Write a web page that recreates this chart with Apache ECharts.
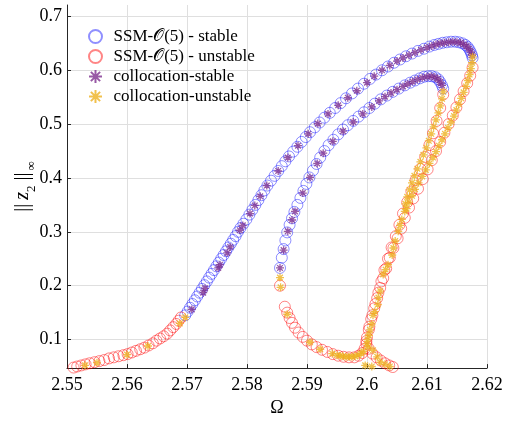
<!DOCTYPE html>
<html><head><meta charset="utf-8">
<script src="https://cdn.jsdelivr.net/npm/echarts@6/dist/echarts.min.js"></script>
<style>html,body{margin:0;padding:0;background:#fff}#c{width:518px;height:422px}</style>
</head><body><div id="c"></div>
<script>
// ---- tick labels ----
const xTicks = [2.55, 2.56, 2.57, 2.58, 2.59, 2.60, 2.61, 2.62];
const yTicks = [0.1, 0.2, 0.3, 0.4, 0.5, 0.6, 0.7];

// ---- SSM-O(5) stable (blue circles) ----
const ssmStableOuter = [
[2.5697,0.145],[2.5701,0.152],[2.5705,0.159],[2.5709,0.166],[2.5713,0.173],[2.5717,0.180],[2.5721,0.187],[2.5725,0.194],
[2.5729,0.201],[2.5733,0.208],[2.5737,0.215],[2.5741,0.222],[2.5745,0.229],[2.5749,0.236],[2.5753,0.243],[2.5757,0.250],
[2.5761,0.257],[2.5765,0.264],[2.5769,0.271],[2.5773,0.278],[2.5777,0.285],[2.5781,0.292],[2.5785,0.300],[2.5789,0.307],
[2.5794,0.315],[2.5799,0.323],[2.5804,0.332],[2.5809,0.341],[2.5814,0.350],[2.5819,0.359],[2.5824,0.368],[2.5829,0.377],
[2.5834,0.386],[2.5840,0.395],[2.5846,0.404],[2.5852,0.413],[2.5858,0.422],[2.5864,0.431],[2.5870,0.440],[2.5877,0.449],
[2.5884,0.458],[2.5891,0.467],[2.5898,0.476],[2.5905,0.485],[2.5913,0.494],[2.5921,0.503],[2.5929,0.512],[2.5938,0.521],
[2.5947,0.530],[2.5956,0.539],[2.5965,0.548],[2.5975,0.557],[2.5985,0.566],[2.5995,0.575],[2.6005,0.584],[2.6015,0.592],
[2.6025,0.600],[2.6035,0.607],[2.6045,0.614],[2.6055,0.620],[2.6065,0.626],[2.6075,0.631],[2.6085,0.636],[2.6095,0.640],
[2.6104,0.644],[2.6112,0.647],[2.6119,0.649],[2.6126,0.651],[2.6133,0.652],[2.6140,0.653],[2.6147,0.653],[2.6153,0.652],
[2.6159,0.650],[2.6164,0.647],[2.6168,0.643],[2.6171,0.638],[2.6173,0.633],[2.6175,0.628],[2.6176,0.623]
];
const ssmStableInner = [
[2.5855,0.233],[2.5858,0.252],[2.5861,0.268],[2.5864,0.284],[2.5867,0.299],[2.5871,0.313],[2.5875,0.325],[2.5879,0.337],
[2.5884,0.350],[2.5889,0.363],[2.5894,0.376],[2.5899,0.389],[2.5904,0.401],[2.5910,0.414],[2.5916,0.426],[2.5922,0.438],
[2.5929,0.450],[2.5936,0.461],[2.5944,0.471],[2.5952,0.481],[2.5960,0.490],[2.5968,0.498],[2.5977,0.506],[2.5986,0.514],
[2.5995,0.522],[2.6004,0.530],[2.6013,0.538],[2.6023,0.546],[2.6033,0.553],[2.6043,0.560],[2.6053,0.566],[2.6063,0.572],
[2.6072,0.577],[2.6080,0.581],[2.6088,0.585],[2.6095,0.588],[2.6102,0.589],[2.6108,0.589],[2.6114,0.587],[2.6119,0.583],
[2.6122,0.578],[2.6125,0.572],[2.6127,0.566]
];

// ---- SSM-O(5) unstable (red circles) ----
const ssmUnstableLow = [
[2.5511,0.048],[2.5517,0.050],[2.5524,0.052],[2.5531,0.054],[2.5538,0.056],[2.5546,0.058],[2.5554,0.060],[2.5562,0.062],
[2.5570,0.065],[2.5578,0.067],[2.5586,0.069],[2.5594,0.071],[2.5601,0.073],[2.5608,0.076],[2.5615,0.079],[2.5622,0.082],
[2.5629,0.085],[2.5636,0.089],[2.5643,0.093],[2.5649,0.098],[2.5655,0.102],[2.5661,0.106],[2.5667,0.111],[2.5672,0.117],
[2.5677,0.123],[2.5682,0.129],[2.5686,0.135],[2.5690,0.141]
];
const ssmUnstableCusp = [
[2.5855,0.200],[2.5863,0.161],[2.5867,0.150],[2.5871,0.140],[2.5875,0.131],[2.5880,0.122],[2.5886,0.113],[2.5893,0.105],
[2.5900,0.098],[2.5908,0.091],[2.5916,0.086],[2.5925,0.081],[2.5934,0.077],[2.5943,0.073],[2.5952,0.070],[2.5961,0.068],
[2.5970,0.067],[2.5979,0.067],[2.5986,0.070],[2.5992,0.075],[2.5996,0.083],[2.5999,0.097],[2.6003,0.118],[2.6007,0.138],
[2.6012,0.158],[2.6017,0.177],[2.6022,0.196],[2.6027,0.214],[2.6032,0.232],[2.6038,0.252],[2.6044,0.270],[2.6051,0.288],
[2.6057,0.306],[2.6063,0.326],[2.6070,0.345],[2.6077,0.362],[2.6085,0.380],[2.6093,0.398],[2.6101,0.416],[2.6108,0.433],
[2.6115,0.450],[2.6122,0.467],[2.6129,0.484],[2.6136,0.500],[2.6143,0.516],[2.6149,0.531],[2.6155,0.546],[2.6161,0.561],
[2.6167,0.576],[2.6172,0.590],[2.6176,0.605]
];
const ssmUnstableInner = [
[2.6127,0.555],[2.6122,0.530],[2.6116,0.506],[2.6110,0.483],[2.6104,0.461],[2.6097,0.439],[2.6089,0.417],[2.6081,0.396],
[2.6074,0.375],[2.6067,0.355],[2.6060,0.334],[2.6054,0.313],[2.6048,0.292],[2.6041,0.271],[2.6035,0.250],[2.6029,0.229],
[2.6024,0.208],[2.6019,0.187],[2.6014,0.166],[2.6009,0.145],[2.6004,0.124],[2.6000,0.104],[2.5999,0.092],[2.6003,0.083],
[2.6009,0.074],[2.6016,0.067],[2.6023,0.061],[2.6030,0.056],[2.6037,0.052],[2.6043,0.049]
];

// ---- collocation stable (purple asterisks) ----
const collStableOuter = [
[2.5708,0.156],[2.5727,0.187],[2.5730,0.195],[2.5752,0.233],[2.5755,0.239],[2.5767,0.261],[2.5772,0.272],[2.5788,0.303],
[2.5793,0.312],[2.5805,0.334],[2.5813,0.349],[2.5822,0.366],[2.5833,0.386],[2.5852,0.413],[2.5868,0.438],[2.5885,0.460],
[2.5902,0.482],[2.5918,0.501],[2.5935,0.519],[2.5952,0.535],[2.5968,0.549],[2.5983,0.562],[2.6000,0.577],[2.6012,0.589],
[2.6025,0.600],[2.6038,0.609],[2.6050,0.617],[2.6060,0.623],[2.6070,0.628],[2.6080,0.633],[2.6090,0.638],[2.6100,0.642],
[2.6108,0.645],[2.6115,0.648],[2.6122,0.650],[2.6129,0.651],[2.6136,0.652],[2.6143,0.653],[2.6150,0.652],[2.6156,0.651],
[2.6161,0.648],[2.6166,0.645],[2.6170,0.640],[2.6173,0.634],[2.6175,0.628]
];
const collStableInner = [
[2.5855,0.233],[2.5861,0.266],[2.5868,0.301],[2.5875,0.322],[2.5880,0.338],[2.5893,0.372],[2.5905,0.401],[2.5917,0.427],
[2.5927,0.446],[2.5943,0.468],[2.5960,0.487],[2.5977,0.504],[2.5993,0.519],[2.6008,0.532],[2.6020,0.543],[2.6030,0.551],
[2.6040,0.558],[2.6050,0.564],[2.6060,0.570],[2.6068,0.575],[2.6076,0.579],[2.6084,0.583],[2.6092,0.586],[2.6100,0.588],
[2.6107,0.589],[2.6113,0.587],[2.6118,0.584],[2.6122,0.578],[2.6125,0.572]
];

// ---- collocation unstable (yellow asterisks) ----
const collUnstableLow = [
[2.5530,0.052],[2.5550,0.057],[2.5600,0.072],[2.5635,0.088],[2.5688,0.130],[2.5697,0.141]
];
const collUnstableCusp = [
[2.5855,0.215],[2.5856,0.197],[2.5867,0.147],[2.5905,0.095],[2.5922,0.082],[2.5942,0.074],[2.5950,0.071],[2.5955,0.070],
[2.5960,0.069],[2.5965,0.068],[2.5970,0.068],[2.5975,0.068],[2.5980,0.069],[2.5985,0.071],[2.5990,0.074],[2.5994,0.078]
];
const collUnstableInner = [
[2.6127,0.560],[2.6125,0.547],[2.6122,0.534],[2.6119,0.521],[2.6115,0.508],[2.6111,0.495],[2.6107,0.482],[2.6103,0.469],
[2.6099,0.456],[2.6094,0.443],[2.6089,0.430],[2.6084,0.417],[2.6079,0.404],[2.6075,0.391],[2.6071,0.378],[2.6067,0.365],
[2.6064,0.352]
];
const collUnstableOuter = [
[2.6176,0.625],[2.6175,0.614],[2.6173,0.603],[2.6171,0.592],[2.6168,0.581],[2.6165,0.570],[2.6161,0.559],[2.6157,0.548],
[2.6153,0.537],[2.6149,0.526],[2.6145,0.515],[2.6140,0.504],[2.6135,0.493],[2.6130,0.482],[2.6125,0.471],[2.6120,0.460],
[2.6115,0.449],[2.6110,0.438],[2.6104,0.427],[2.6098,0.415],[2.6092,0.403],[2.6086,0.391],[2.6080,0.379],[2.6075,0.367],
[2.6070,0.355],[2.6066,0.343]
];
const collUnstableMerged = [
[2.6063,0.338],[2.6058,0.323],[2.6055,0.312],[2.6052,0.301],[2.6047,0.283],[2.6044,0.270],[2.6042,0.257],[2.6035,0.239],
[2.6031,0.230],[2.6027,0.221],[2.6022,0.190],[2.6019,0.178],[2.6018,0.165],[2.6013,0.152],[2.6010,0.145],[2.6008,0.129],
[2.6005,0.118],[2.6003,0.108],[2.6001,0.100],[2.6000,0.092],[2.6002,0.086],[2.6010,0.080],[2.6017,0.068],[2.6022,0.058],
[2.6030,0.054],[2.6038,0.050],[2.5997,0.052],[2.6008,0.050]
];

const FONT = '"Liberation Serif", "DejaVu Serif", serif';
const AXIS_COLOR = '#262626';
const STAR = 'path://M5,0L5,10M0,5L10,5M1.46,1.46L8.54,8.54M1.46,8.54L8.54,1.46';

const NAME_S = 'SSM-\u{1D4AA}(5) - stable';
const NAME_U = 'SSM-\u{1D4AA}(5) - unstable';
const NAME_CS = 'collocation-stable';
const NAME_CU = 'collocation-unstable';

function circleSeries(name, data, color) {
  return {
    type: 'scatter', name: name, data: data, symbol: 'circle', symbolSize: 11, clip: false,
    itemStyle: { color: 'rgba(0,0,0,0)', borderColor: color, borderWidth: 1 },
    emphasis: { disabled: true }, silent: true
  };
}
function starSeries(name, data, color) {
  return {
    type: 'scatter', name: name, data: data, symbol: STAR, symbolSize: 8, clip: false,
    itemStyle: { color: color, borderColor: color, borderWidth: 1.3 },
    emphasis: { disabled: true }, silent: true
  };
}

const chart = echarts.init(document.getElementById('c'), null, { renderer: 'canvas' });
chart.setOption({
  animation: false,
  backgroundColor: '#fff',
  textStyle: { fontFamily: FONT },
  grid: { left: 67, right: 31, top: 5, bottom: 51, containLabel: false },
  legend: {
    orient: 'vertical', left: 83, top: 23, itemGap: 3, itemWidth: 14, itemHeight: 13,
    data: [NAME_S, NAME_U, NAME_CS, NAME_CU],
    textStyle: { fontFamily: FONT, fontSize: 17, color: '#000', padding: [0, 0, 0, 6] },
    selectedMode: false
  },
  xAxis: {
    type: 'value', min: 2.55, max: 2.62, interval: 0.01,
    name: '\u03A9', nameLocation: 'middle', nameGap: 30,
    nameTextStyle: { fontFamily: FONT, fontSize: 18, color: '#000' },
    axisLine: { show: true, lineStyle: { color: AXIS_COLOR, width: 1 } },
    axisTick: { show: true, inside: true, length: 4, lineStyle: { color: AXIS_COLOR } },
    axisLabel: { fontFamily: FONT, fontSize: 18, color: '#000', margin: 8,
      formatter: v => String(+v.toFixed(2)) },
    splitLine: { show: true, lineStyle: { color: '#dfdfdf', width: 1 } }
  },
  yAxis: {
    type: 'value', min: 0.047, max: 0.7212,
    name: '{b|||}{i|z}{s|2}{c|||}{s|\u221E}', nameLocation: 'middle', nameGap: 33, nameRotate: 90,
    nameMoveOverlap: false,
    nameTextStyle: { fontFamily: FONT, fontSize: 20, color: '#000',
      rich: {
        b: { fontFamily: FONT, fontSize: 20, color: '#000', lineHeight: 22, padding: [0, 4, 0, 0] },
        c: { fontFamily: FONT, fontSize: 20, color: '#000', lineHeight: 22, padding: [0, 2, 0, 5] },
        i: { fontFamily: FONT, fontSize: 20, fontStyle: 'italic', color: '#000', lineHeight: 22 },
        s: { fontFamily: FONT, fontSize: 13, color: '#000', verticalAlign: 'bottom', lineHeight: 22, padding: [0, 0, -4, 0] }
      } },
    axisLine: { show: true, lineStyle: { color: AXIS_COLOR, width: 1 } },
    axisTick: { show: true, inside: true, length: 4, customValues: yTicks, lineStyle: { color: AXIS_COLOR } },
    axisLabel: { fontFamily: FONT, fontSize: 18, color: '#000', margin: 5, customValues: yTicks,
      formatter: v => String(+v.toFixed(1)) },
    splitLine: { show: true, lineStyle: { color: '#dfdfdf', width: 1 } }
  },
  series: [
    circleSeries(NAME_S, ssmStableOuter.concat(ssmStableInner), 'rgba(0,0,255,0.55)'),
    circleSeries(NAME_U, ssmUnstableLow.concat(ssmUnstableCusp, ssmUnstableInner), 'rgba(255,0,0,0.6)'),
    starSeries(NAME_CS, collStableOuter.concat(collStableInner), '#7E2F8E'),
    starSeries(NAME_CU, collUnstableLow.concat(collUnstableCusp, collUnstableInner, collUnstableOuter, collUnstableMerged), '#EDB120')
  ]
});
</script>
</body></html>
